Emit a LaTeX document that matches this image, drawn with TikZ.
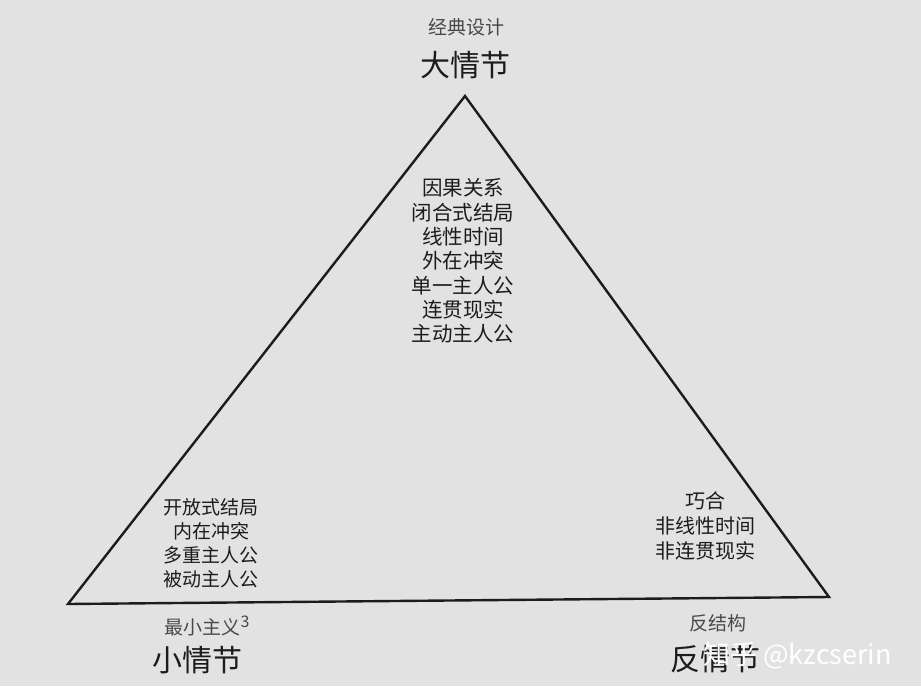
\documentclass[tikz,border=0pt]{standalone}
\usepackage{fontspec}
\newfontfamily\cjk{Noto Sans CJK SC}
\usetikzlibrary{positioning}
\definecolor{pagecol}{RGB}{226, 226, 226}
\definecolor{inkcol}{RGB}{28, 28, 28}
\tikzset{
  title/.style={font=\cjk\fontsize{30}{32}\selectfont, text=inkcol, inner sep=0pt},
  note/.style={font=\cjk\fontsize{19}{21}\selectfont, text=inkcol!80, inner sep=0pt},
  trait/.style={font=\cjk\fontsize{20}{24.3}\selectfont, text=inkcol, align=center,
                inner sep=0pt},
  edge/.style={draw=inkcol, line width=2.4pt, line join=miter},
}

\begin{document}
\begin{tikzpicture}[x=1pt, y=-1pt]
  \fill[pagecol] (0,0) rectangle (921,686);
  \useasboundingbox (0,0) rectangle (921,686);

  % corners of the triangle
  \coordinate (top) at (465,96);
  \coordinate (left) at (68,604);
  \coordinate (right) at (829,597);
  \draw[edge] (top) -- (right) -- (left) -- cycle;

  % apex
  \node[title] (big) at (465,65) {大情节};
  \node[note] (classic) at (466,27) {经典设计};

  % lower corners
  \node[title] (small) at (197,660) {小情节};
  \node[note] (mini) at (207,626) {最小主义\raisebox{0.6ex}{\fontsize{16}{16}\selectfont 3}};
  \node[title] (anti) at (715,659) {反情节};
  \node[note] (antistr) at (718,623) {反结构};

  % traits inside
  \node[trait, font=\cjk\fontsize{20.5}{24.3}\selectfont] (arch) at (463,261)
    {因果关系\\闭合式结局\\线性时间\\外在冲突\\单一主人公\\连贯现实\\主动主人公};
  \node[trait, font=\cjk\fontsize{19}{24}\selectfont] (minitr) at (211,543)
    {开放式结局\\内在冲突\\多重主人公\\被动主人公};
  \node[trait, font=\cjk\fontsize{20}{25}\selectfont] (antitr) at (705,526)
    {巧合\\非线性时间\\非连贯现实};

  % watermark
  \node[font=\cjk\fontsize{27}{30}\selectfont, text=white, inner sep=0pt,
        anchor=west] (mark) at (703,655) {知乎 @kzcserin};
\end{tikzpicture}
\end{document}
